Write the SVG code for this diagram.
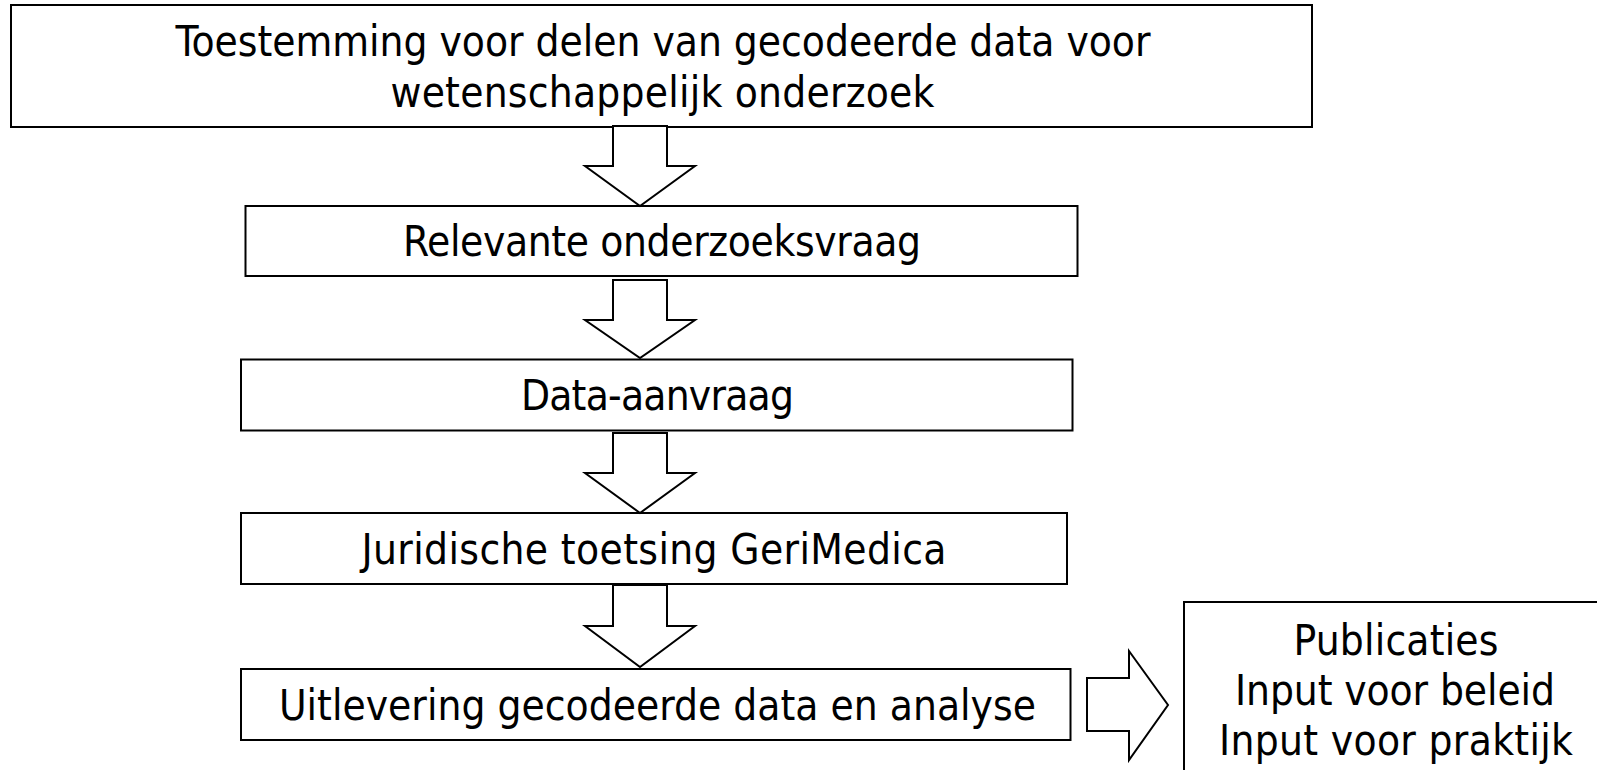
<svg xmlns="http://www.w3.org/2000/svg" width="1597" height="770" viewBox="0 0 1597 770">
<style>
.box{fill:#fff;stroke:#000;stroke-width:2}
.arr{fill:#fff;stroke:#000;stroke-width:2;stroke-linejoin:miter}
.t{font-family:"DejaVu Sans Condensed","DejaVu Sans",sans-serif;font-size:42px;fill:#000;text-anchor:middle}
</style>
<rect width="1597" height="770" fill="#fff"/>
<g id="n1">
<rect class="box" x="11" y="5" width="1301" height="122"/>
<text class="t" x="663" y="56" textLength="975" lengthAdjust="spacing">Toestemming voor delen van gecodeerde data voor</text>
<text class="t" x="662.5" y="107" textLength="544" lengthAdjust="spacing">wetenschappelijk onderzoek</text>
</g>
<g id="n2">
<rect class="box" x="245.5" y="206" width="832" height="70"/>
<text class="t" x="662" y="256" textLength="518" lengthAdjust="spacing">Relevante onderzoeksvraag</text>
</g>
<g id="n3">
<rect class="box" x="241" y="359.5" width="831.5" height="71"/>
<text class="t" x="657.4" y="410" textLength="273" lengthAdjust="spacing">Data-aanvraag</text>
</g>
<g id="n4">
<rect class="box" x="241" y="513" width="826" height="71"/>
<text class="t" x="654" y="563.5" textLength="585" lengthAdjust="spacing">Juridische toetsing GeriMedica</text>
</g>
<g id="n5">
<rect class="box" x="241" y="669" width="829.5" height="71"/>
<text class="t" x="657.4" y="719.5" textLength="757" lengthAdjust="spacing">Uitlevering gecodeerde data en analyse</text>
</g>
<g id="n6">
<rect class="box" x="1184" y="602" width="440" height="200"/>
<text class="t" x="1396" y="655" textLength="205" lengthAdjust="spacing">Publicaties</text>
<text class="t" x="1395" y="705" textLength="320" lengthAdjust="spacing">Input voor beleid</text>
<text class="t" x="1396" y="755" textLength="354" lengthAdjust="spacing">Input voor praktijk</text>
</g>
<g id="connectors">
<polygon class="arr" points="613,126 667,126 667,166 695,166 640,206 585,166 613,166"/>
<polygon class="arr" points="613,280 667,280 667,320 695,320 640,358 585,320 613,320"/>
<polygon class="arr" points="613,433 667,433 667,473 695,473 640,513 585,473 613,473"/>
<polygon class="arr" points="613,585 667,585 667,626 695,626 640,667 585,626 613,626"/>
<polygon class="arr" points="1087,678 1129,678 1129,651 1168,705 1129,760 1129,731 1087,731"/>
</g>
</svg>
